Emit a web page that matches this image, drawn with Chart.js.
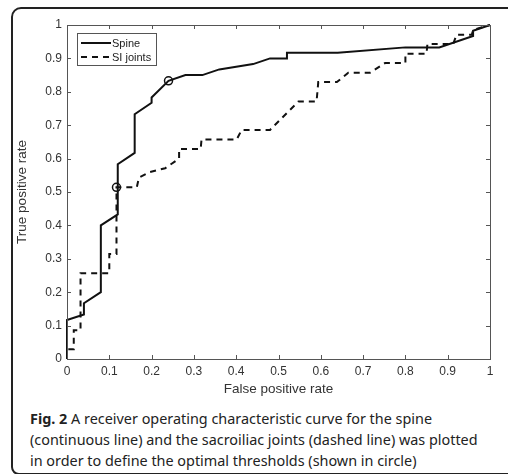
<!DOCTYPE html>
<html>
<head>
<meta charset="utf-8">
<script src="https://cdn.jsdelivr.net/npm/chart.js@4.4.0/dist/chart.umd.min.js"></script>
<style>
  html, body { margin: 0; padding: 0; background: #fff; }
  body { width: 508px; height: 474px; position: relative; overflow: hidden; }
  #frame {
    position: absolute; left: 11px; top: 7px; width: 520px; height: 464px;
    border: 2px solid #222; border-radius: 10px 0 0 8px;
  }
  #wrap { position: absolute; left: 0; top: 0; width: 508px; height: 400px; }
  #caption {
    position: absolute; left: 30px; top: 408px; width: 476px; white-space: nowrap;
    font-family: "Noto Sans", sans-serif; font-size: 14.4px; line-height: 21px; color: #222;
  }
</style>
</head>
<body>
<div id="frame"></div>
<div id="wrap"><canvas id="roc"></canvas></div>
<div id="caption"><b>Fig. 2</b> A receiver operating characteristic curve for the spine<br>(continuous line) and the sacroiliac joints (dashed line) was plotted<br>in order to define the optimal thresholds (shown in circle)</div>
<script>
// ROC curves
const spineFpr = [0, 0, 0.04, 0.04, 0.08, 0.08, 0.12, 0.12, 0.16, 0.16, 0.2, 0.2, 0.24, 0.28, 0.32, 0.36, 0.44, 0.48, 0.52, 0.52, 0.64, 0.8, 0.88, 0.96, 0.96, 1];
const spineTpr = [0, 0.117, 0.133, 0.167, 0.2, 0.4, 0.433, 0.583, 0.617, 0.733, 0.767, 0.783, 0.833, 0.85, 0.85, 0.867, 0.883, 0.9, 0.9, 0.917, 0.917, 0.933, 0.933, 0.967, 0.983, 1];

const siFpr = [0, 0, 0.016, 0.016, 0.032, 0.032, 0.1, 0.1, 0.117, 0.117, 0.165, 0.17, 0.196, 0.232, 0.265, 0.265, 0.316, 0.318, 0.401, 0.413, 0.48, 0.547, 0.59, 0.594, 0.638, 0.665, 0.716, 0.752, 0.8, 0.8, 0.85, 0.852, 0.913, 0.921, 0.957, 0.96, 1];
const siTpr = [0, 0.029, 0.029, 0.086, 0.086, 0.257, 0.257, 0.314, 0.314, 0.514, 0.514, 0.543, 0.56, 0.571, 0.6, 0.629, 0.629, 0.657, 0.657, 0.686, 0.686, 0.771, 0.771, 0.829, 0.829, 0.857, 0.857, 0.886, 0.886, 0.914, 0.914, 0.943, 0.943, 0.971, 0.971, 0.985, 1];

// optimal thresholds (circles): spine, SI joints
const optFpr = [0.24, 0.117];
const optTpr = [0.833, 0.514];

const tickVals = [0, 0.1, 0.2, 0.3, 0.4, 0.5, 0.6, 0.7, 0.8, 0.9, 1];

const toPts = (xs, ys) => xs.map((v, i) => ({ x: v, y: ys[i] }));

const axisFont = { family: 'Liberation Sans', size: 12 };
const titleFont = { family: 'Liberation Sans', size: 13.5 };

// matlab style box with inward ticks + boxed legend
const matlabBox = {
  id: 'matlabBox',
  afterDatasetsDraw(chart) {
    const { ctx, chartArea: a, scales: { x, y } } = chart;
    ctx.save();
    ctx.strokeStyle = '#555';
    ctx.lineWidth = 1;
    ctx.strokeRect(Math.round(a.left) + 0.5, Math.round(a.top) + 0.5, Math.round(a.width), Math.round(a.height));
    const len = 4;
    ctx.beginPath();
    tickVals.forEach(v => {
      const px = Math.round(x.getPixelForValue(v)) + 0.5;
      const py = Math.round(y.getPixelForValue(v)) + 0.5;
      ctx.moveTo(px, a.bottom); ctx.lineTo(px, a.bottom - len);
      ctx.moveTo(px, a.top); ctx.lineTo(px, a.top + len);
      ctx.moveTo(a.left, py); ctx.lineTo(a.left + len, py);
      ctx.moveTo(a.right, py); ctx.lineTo(a.right - len, py);
    });
    ctx.stroke();

    // legend
    const lx = a.left + 10, ly = a.top + 8, lw = 79, lh = 32;
    ctx.fillStyle = '#fff';
    ctx.fillRect(lx, ly, lw, lh);
    ctx.strokeStyle = '#555';
    ctx.strokeRect(lx + 0.5, ly + 0.5, lw, lh);
    const items = chart.data.datasets.slice(0, 2);
    items.forEach((ds, i) => {
      const yy = ly + 10 + i * 14;
      ctx.strokeStyle = '#111';
      ctx.lineWidth = 2;
      ctx.setLineDash(ds.borderDash || []);
      ctx.beginPath();
      ctx.moveTo(lx + 4, yy); ctx.lineTo(lx + 34, yy);
      ctx.stroke();
      ctx.setLineDash([]);
      ctx.fillStyle = '#222';
      ctx.font = '11px "Liberation Sans"';
      ctx.textBaseline = 'middle';
      ctx.fillText(ds.label, lx + 35, yy + 0.5);
    });
    ctx.restore();
  }
};

new Chart(document.getElementById('roc'), {
  type: 'scatter',
  data: {
    datasets: [
      {
        label: 'Spine',
        data: toPts(spineFpr, spineTpr),
        showLine: true, borderColor: '#111', borderWidth: 2,
        pointRadius: 0, clip: false
      },
      {
        label: 'SI joints',
        data: toPts(siFpr, siTpr),
        showLine: true, borderColor: '#111', borderWidth: 2,
        borderDash: [6, 5], pointRadius: 0, clip: false
      },
      {
        label: 'Optimal threshold',
        data: toPts(optFpr, optTpr),
        showLine: false, pointRadius: 4, pointBorderWidth: 1.5,
        pointBorderColor: '#111', pointBackgroundColor: 'rgba(0,0,0,0)', clip: false
      }
    ]
  },
  options: {
    responsive: true,
    maintainAspectRatio: false,
    animation: false,
    layout: { padding: { left: 0, top: 25, right: 18, bottom: 0 } },
    plugins: {
      legend: { display: false },
      tooltip: { enabled: false }
    },
    scales: {
      x: {
        type: 'linear', min: 0, max: 1,
        afterBuildTicks: s => { s.ticks = tickVals.map(v => ({ value: v })); },
        afterFit: s => { s.height = 41; },
        grid: { display: false, drawTicks: false },
        border: { display: false },
        ticks: { font: axisFont, color: '#333', padding: 5, maxRotation: 0, callback: v => String(v) },
        title: { display: true, text: 'False positive rate', font: titleFont, color: '#333', padding: { top: 0, bottom: 3 } }
      },
      y: {
        type: 'linear', min: 0, max: 1,
        afterBuildTicks: s => { s.ticks = tickVals.map(v => ({ value: v })); },
        afterFit: s => { s.width = 67; },
        grid: { display: false, drawTicks: false },
        border: { display: false },
        ticks: { font: axisFont, color: '#333', padding: 5, callback: v => String(v) },
        title: { display: true, text: 'True positive rate', font: titleFont, color: '#333', padding: { top: 14, bottom: 0 } }
      }
    }
  },
  plugins: [matlabBox]
});
</script>
</body>
</html>
